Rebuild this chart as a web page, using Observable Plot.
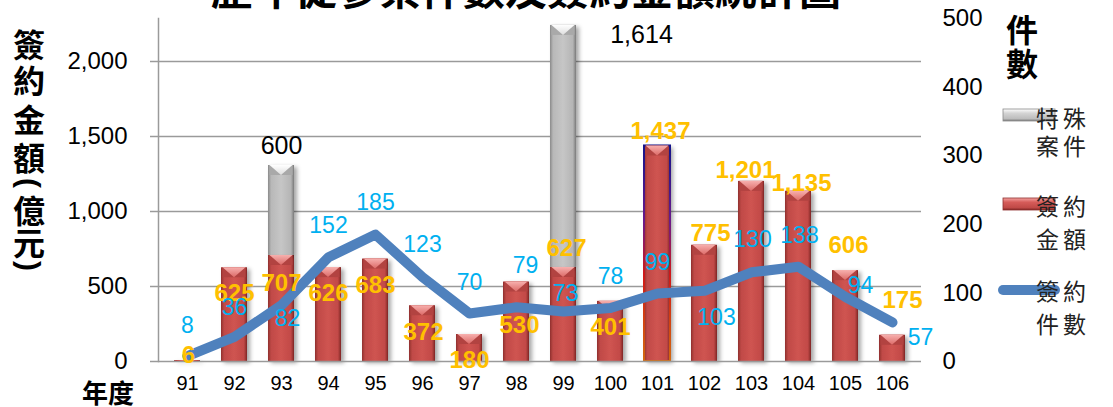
<!DOCTYPE html>
<html><head><meta charset="utf-8">
<script src="https://cdn.jsdelivr.net/npm/d3@7"></script>
<script src="https://cdn.jsdelivr.net/npm/@observablehq/plot@0.6"></script>
<style>
body{margin:0;background:#fff;}
#chart{position:relative;width:1113px;height:407px;overflow:hidden;}
</style></head><body><div id="chart"></div>
<script>
// ---- data ----
const years   = ["91","92","93","94","95","96","97","98","99","100","101","102","103","104","105","106"];
const amounts = [6,625,707,626,683,372,180,530,627,401,1437,775,1201,1135,606,175];     // 簽約金額 (億元)
const special = [0,0,600,0,0,0,0,0,1614,0,0,0,0,0,0,0];                                // 特殊案件 (億元)
const counts  = [8,36,82,152,185,123,70,79,73,78,99,103,130,138,94,57];                 // 簽約件數
const leftTicks  = [0,500,1000,1500,2000];
const rightTicks = [0,100,200,300,400,500];
const titleText = "歷年促參案件數及簽約金額統計圖";
const seriesNames = {special:["特殊","案件"], amount:["簽約","金額"], count:["簽約","件數"]};

// ---- label nudges (px) ----
const amountNudge = [[1,-5],[0,26],[0,28],[0,26],[0,26],[1,27],[0,26],[3,43],[3,-19],[0,26],[3,-15],[6,-12],[-6,-11],[3,-8],[3,-25],[10,-35]];
const countNudge  = [[0,-30],[0,-29],[6,13],[0,-32],[0,-32],[0,-32],[0,-31],[9,-42],[2,-18],[0,-31],[0,-31],[12,27],[1,-33],[1,-31],[15,-11],[28,15]];

const yMax = 2287, rightMax = 500, k = yMax / rightMax;
const rows = years.map((year,i)=>({year, amount:amounts[i], special:special[i], top:amounts[i]+special[i], count:counts[i], i}));

const numFont = "'Liberation Sans', Arial, Helvetica, sans-serif";
const cjkFont = "'Noto Sans CJK TC', 'Noto Sans CJK SC', sans-serif";
const fmt = d3.format(",");
const grid = "#9a9a9a";

const marks = [
  Plot.ruleY(leftTicks.slice(1), {y: d=>d, stroke:grid, strokeWidth:1.5, insetLeft:-8}),
  Plot.barY(rows, {x:"year", y:"amount", fill:"url(#gRed)", inset:0}),
  Plot.barY(rows.filter(d=>d.special>0), {x:"year", y1:"amount", y2:"top", fill:"url(#gGray)", inset:0}),
  Plot.barY(rows.filter(d=>d.year==="101"), {x:"year", y:"amount", fill:"none", stroke:"url(#gSel)", strokeWidth:2, inset:0}),
  Plot.ruleY([0], {stroke:grid, strokeWidth:1.5, insetLeft:-8}),
  Plot.frame({anchor:"left", stroke:grid, strokeWidth:1.5}),
  Plot.line(rows, {x:"year", y:d=>d.count*k, stroke:"#4F81BD", strokeWidth:10, strokeLinecap:"round", strokeLinejoin:"round"}),
  ...rows.map((d,i)=>Plot.text([d], {x:"year", y:"amount", text:d=>fmt(d.amount), dx:amountNudge[i][0], dy:amountNudge[i][1],
      fill:"#FFC000", fontWeight:"bold", fontSize:24, fontFamily:numFont})),
  ...rows.map((d,i)=>Plot.text([d], {x:"year", y:d=>d.count*k, text:d=>String(d.count), dx:countNudge[i][0], dy:countNudge[i][1],
      fill:"#00B0F0", fontSize:23, fontFamily:numFont})),
  Plot.text(rows.filter(d=>d.year==="93"), {x:"year", y:"top", text:d=>fmt(d.special), dy:-19, fill:"#000", fontSize:25, fontFamily:numFont}),
  Plot.text(rows.filter(d=>d.year==="99"), {x:"year", y:"top", text:d=>fmt(d.special), dx:78, dy:10, fill:"#000", fontSize:25, fontFamily:numFont}),
  Plot.axisY(leftTicks, {anchor:"left", tickSize:0, tickPadding:31, tickFormat:fmt, fontSize:24, fontFamily:numFont, label:null}),
  Plot.axisY(rightTicks.map(v=>v*k), {anchor:"right", tickSize:0, tickPadding:21, tickFormat:d=>String(Math.round(d/k)), fontSize:24, fontFamily:numFont, label:null}),
  Plot.axisX({tickSize:0, tickPadding:14, fontSize:20, fontFamily:numFont, label:null})
];

const svg = Plot.plot({
  width:1113, height:407,
  marginLeft:158, marginRight:192, marginTop:18, marginBottom:46,
  x:{domain:years, paddingInner:0.45, paddingOuter:0.225, label:null},
  y:{domain:[0,yMax], label:null},
  style:{fontFamily:numFont, fontSize:"20px", background:"#fff", color:"#000", overflow:"visible"},
  marks
});

const NS = "http://www.w3.org/2000/svg";
const defs = document.createElementNS(NS,"defs");
defs.innerHTML = `
<linearGradient id="gRed" x1="0" x2="1" y1="0" y2="0">
  <stop offset="0" stop-color="#8f2f2d"/><stop offset="0.12" stop-color="#c04a47"/>
  <stop offset="0.5" stop-color="#cf5451"/><stop offset="0.88" stop-color="#c24a47"/>
  <stop offset="1" stop-color="#7e2624"/></linearGradient>
<linearGradient id="gGray" x1="0" x2="1" y1="0" y2="0">
  <stop offset="0" stop-color="#8a8a8a"/><stop offset="0.12" stop-color="#b8b8b8"/>
  <stop offset="0.5" stop-color="#c6c6c6"/><stop offset="0.88" stop-color="#b5b5b5"/>
  <stop offset="1" stop-color="#7a7a7a"/></linearGradient>
<linearGradient id="gRedV" x1="0" x2="0" y1="0" y2="1">
  <stop offset="0" stop-color="#f4a3a1"/><stop offset="0.35" stop-color="#d65c59"/>
  <stop offset="0.8" stop-color="#c04a47"/><stop offset="1" stop-color="#7e2624"/></linearGradient>
<linearGradient id="gGrayV" x1="0" x2="0" y1="0" y2="1">
  <stop offset="0" stop-color="#ffffff"/><stop offset="0.35" stop-color="#d4d4d4"/>
  <stop offset="0.8" stop-color="#bdbdbd"/><stop offset="1" stop-color="#7a7a7a"/></linearGradient>
<linearGradient id="gRedTop" x1="0" x2="0" y1="0" y2="1">
  <stop offset="0" stop-color="#f7b0ae"/><stop offset="1" stop-color="#dc6a67"/></linearGradient>
<linearGradient id="gGrayTop" x1="0" x2="0" y1="0" y2="1">
  <stop offset="0" stop-color="#ffffff"/><stop offset="1" stop-color="#dedede"/></linearGradient>
<linearGradient id="gSel" x1="0" x2="0" y1="0" y2="1">
  <stop offset="0" stop-color="#14148a"/><stop offset="0.35" stop-color="#6a1a8a"/>
  <stop offset="0.6" stop-color="#d01818"/><stop offset="1" stop-color="#d2690f"/></linearGradient>
<filter id="shadow" x="-20%" y="-5%" width="150%" height="115%">
  <feDropShadow dx="3" dy="2" stdDeviation="2" flood-color="#000" flood-opacity="0.35"/></filter>`;
svg.insertBefore(defs, svg.firstChild);

// shadows on bar layers
svg.querySelectorAll('g[fill="url(#gRed)"], g[fill="url(#gGray)"]').forEach(g=>g.setAttribute("filter","url(#shadow)"));

// bevelled tops, positioned from Plot's own scales
const xs = svg.scale("x"), ys = svg.scale("y");
const bevel = document.createElementNS(NS,"g");
function addBevel(year, v0, v1, side, tri){
  const x = xs.apply(year), w = xs.bandwidth;
  const yTop = ys.apply(v1), yBot = ys.apply(v0);
  const b = Math.min(10, yBot - yTop);
  const strip = document.createElementNS(NS,"rect");
  strip.setAttribute("x",x+1.5); strip.setAttribute("y",yTop); strip.setAttribute("width",w-3); strip.setAttribute("height",b);
  strip.setAttribute("fill",side);
  const p = document.createElementNS(NS,"polygon");
  p.setAttribute("points",`${x+1.5},${yTop} ${x+w-1.5},${yTop} ${x+w/2},${yTop+b}`);
  p.setAttribute("fill",tri);
  bevel.appendChild(strip); bevel.appendChild(p);
}
rows.forEach(d=>{
  addBevel(d.year, 0, d.amount, "#b24341", "url(#gRedTop)");
  if (d.special>0) addBevel(d.year, d.amount, d.top, "#a9a9a9", "url(#gGrayTop)");
});
const lineG = svg.querySelector('g[aria-label="line"]');
if (lineG) svg.insertBefore(bevel, lineG); else svg.appendChild(bevel);

function addText(str, x, y, opts, transform){
  const t = document.createElementNS(NS,"text");
  t.textContent = str;
  t.setAttribute("x",x); t.setAttribute("y",y);
  for (const [a,v] of Object.entries(opts)) t.setAttribute(a,v);
  if (transform) t.setAttribute("transform",transform);
  svg.appendChild(t); return t;
}
function addEl(tag, attrs){
  const e = document.createElementNS(NS,tag);
  for (const [a,v] of Object.entries(attrs)) e.setAttribute(a,v);
  svg.appendChild(e); return e;
}

const bold = {"text-anchor":"middle","dominant-baseline":"central","font-family":cjkFont,"font-weight":"bold",fill:"#000"};

// title (cropped at top in the reference)
addText(titleText, 526, 5, {"text-anchor":"middle","font-family":cjkFont,"font-size":42,"font-weight":"bold",fill:"#000"});

// left axis title (vertical)
const leftChars = [["簽",43],["約",79],["金",118],["額",156],["億",209],["元",241]];
leftChars.forEach(([c,y])=>addText(c, 29, y, {...bold,"font-size":32}));
addText("(", 0, 0, {...bold,"font-size":30,"font-family":numFont}, "translate(29,183) rotate(90)");
addText(")", 0, 0, {...bold,"font-size":30,"font-family":numFont}, "translate(29,266) rotate(90)");
// right axis title
[["件",28],["數",62]].forEach(([c,y])=>addText(c, 1022, y, {...bold,"font-size":32}));
// x axis title
addText("年度", 108, 391, {...bold,"font-size":26});

// legend
addEl("rect",{x:1003,y:109,width:52,height:12,fill:"url(#gGrayV)",stroke:"#8a8a8a","stroke-width":0.8});
addEl("rect",{x:1003,y:198,width:52,height:12,fill:"url(#gRedV)",stroke:"#8f2f2d","stroke-width":0.8});
addEl("line",{x1:1003,x2:1055,y1:290,y2:290,stroke:"#4F81BD","stroke-width":10,"stroke-linecap":"round"});
const legTxt = {"dominant-baseline":"central","font-family":cjkFont,"font-size":23,"letter-spacing":4,fill:"#222"};
addText(seriesNames.special[0],1063,117,legTxt); addText(seriesNames.special[1],1063,145,legTxt);
addText(seriesNames.amount[0],1063,205,legTxt);  addText(seriesNames.amount[1],1063,238,legTxt);
addText(seriesNames.count[0],1063,290,legTxt);   addText(seriesNames.count[1],1063,323,legTxt);

document.getElementById("chart").appendChild(svg);
</script></body></html>
